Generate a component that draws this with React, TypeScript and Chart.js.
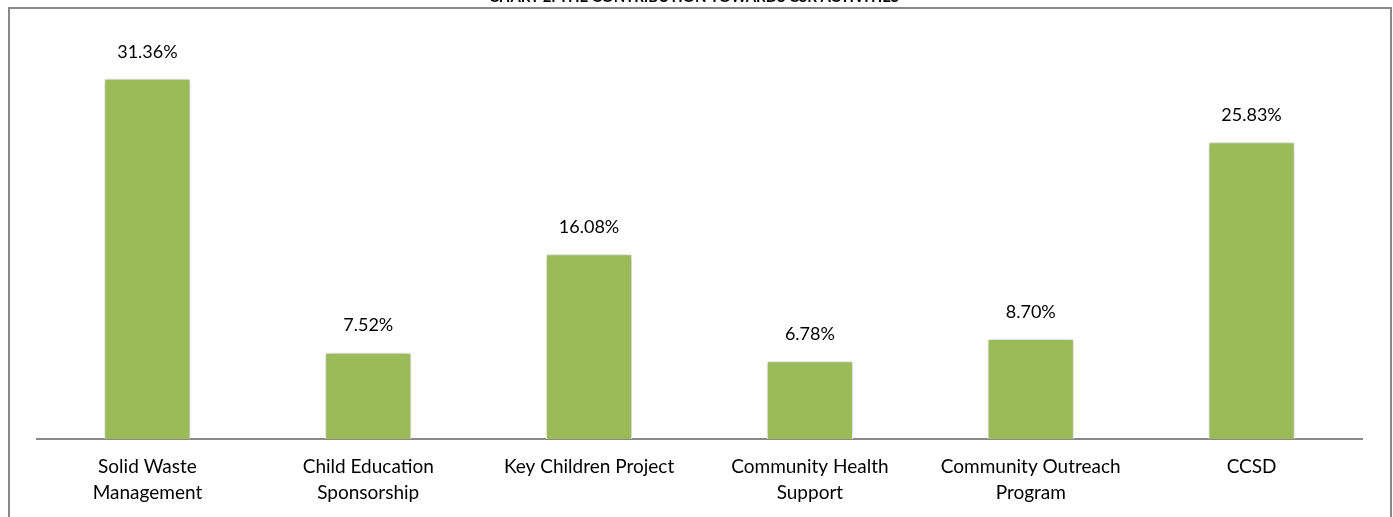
import React, { useEffect, useRef } from "react";
import { Chart, registerables } from "chart.js";

Chart.register(...registerables);

const categories: string[][] = [
  ["Solid Waste", "Management"],
  ["Child Education", "Sponsorship"],
  ["Key Children Project"],
  ["Community Health", "Support"],
  ["Community Outreach", "Program"],
  ["CCSD"],
];
const values: number[] = [31.36, 7.52, 16.08, 6.78, 8.7, 25.83];
const valueLabels: string[] = ["31.36%", "7.52%", "16.08%", "6.78%", "8.70%", "25.83%"];
const title = "CHART 2: THE CONTRIBUTION TOWARDS CSR ACTIVITIES";

const FONT = "Lato, 'Open Sans', sans-serif";

export default function App() {
  const ref = useRef<HTMLCanvasElement>(null);
  useEffect(() => {
    document.body.style.margin = "0";
    const framePlugin = {
      id: "frame",
      beforeDraw(chart: any) {
        const ctx = chart.ctx;
        ctx.save();
        ctx.fillStyle = "#ffffff";
        ctx.fillRect(0, 0, chart.width, chart.height);
        ctx.strokeStyle = "#898989";
        ctx.lineWidth = 2;
        ctx.beginPath();
        ctx.moveTo(9, 530);
        ctx.lineTo(9, 8);
        ctx.lineTo(1391, 8);
        ctx.lineTo(1391, 530);
        ctx.stroke();
        ctx.fillStyle = "#000000";
        ctx.font = `bold 15px ${FONT}`;
        ctx.textAlign = "center";
        ctx.textBaseline = "alphabetic";
        ctx.fillText(title, 694, 2);
        ctx.restore();
      },
    };
    const shadowPlugin = {
      id: "barShadow",
      beforeDatasetsDraw(chart: any) {
        const ctx = chart.ctx;
        ctx.save();
        ctx.shadowColor = "rgba(0,0,0,0.28)";
        ctx.shadowBlur = 6;
        ctx.shadowOffsetX = 0;
        ctx.shadowOffsetY = 0;
      },
      afterDatasetsDraw(chart: any) {
        const ctx = chart.ctx;
        ctx.restore();
        const meta = chart.getDatasetMeta(0);
        ctx.save();
        ctx.fillStyle = "#000000";
        ctx.font = `18px ${FONT}`;
        ctx.textAlign = "center";
        ctx.textBaseline = "middle";
        meta.data.forEach((bar: any, i: number) => {
          ctx.fillText(valueLabels[i], bar.x, bar.y - 27);
        });
        ctx.restore();
      },
    };
    const chart = new Chart(ref.current!, {
      type: "bar",
      data: {
        labels: categories,
        datasets: [
          {
            data: values,
            backgroundColor: "#9BBB59",
            borderColor: "#ffffff",
            borderWidth: 1,
            barPercentage: 0.39,
            categoryPercentage: 1,
          },
        ],
      },
      options: {
        animation: false,
        responsive: false,
        layout: { padding: { left: 37, right: 31, top: 37, bottom: 0 } },
        plugins: {
          legend: { display: false },
          title: { display: false },
          tooltip: { enabled: false },
        },
        scales: {
          x: {
            grid: { display: false, drawTicks: false },
            border: { display: true, color: "#898989", width: 2 },
            ticks: {
              color: "#000000",
              font: { family: FONT, size: 19, lineHeight: 1.37 },
              padding: 15,
              maxRotation: 0,
              autoSkip: false,
            },
            afterFit(scale: any) {
              scale.height = 78;
            },
          },
          y: {
            display: false,
            min: 0,
            max: 35,
          },
        },
      },
      plugins: [framePlugin, shadowPlugin],
    });
    return () => chart.destroy();
  }, []);
  return (
    <div style={{ position: "absolute", left: 0, top: 0, width: 1393, height: 517 }}>
      <canvas ref={ref} width={1393} height={517} style={{ display: "block" }} />
    </div>
  );
}
